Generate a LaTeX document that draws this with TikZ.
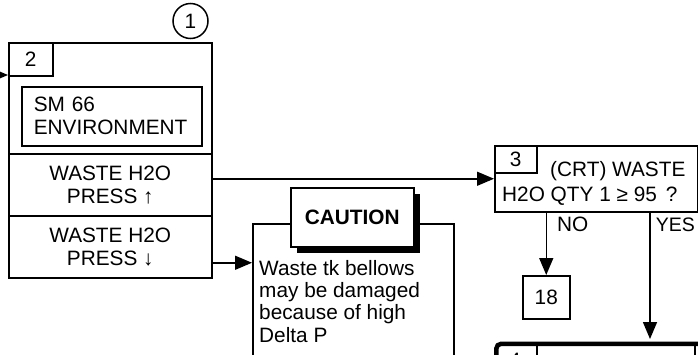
\documentclass[tikz,border=0pt]{standalone}
\usepackage{fontspec}
\setmainfont{Liberation Sans}
\usetikzlibrary{arrows.meta,shadows,calc}
\begin{document}
\begin{tikzpicture}[x=1pt,y=-1pt,
  box/.style={draw, line width=1.5pt, inner sep=0pt, anchor=north west},
  txt/.style={font=\fontsize{20.8}{23}\selectfont},
  arr/.style={line width=1.5pt, -{Triangle[length=17pt,width=14pt]}},
  ln/.style={line width=1.5pt}]
\useasboundingbox (0,0) rectangle (698,354);
\clip (0,0) rectangle (698,354);
% main box
\node[box, minimum width=203pt, minimum height=235pt] (main) at (8,42) {};
\node[box, txt, minimum width=44pt, minimum height=33pt] (l2) at (8,42) {2};
\node[box, txt, minimum width=180pt, minimum height=59pt, align=left, text width=156pt, inner xsep=12pt] (env) at (21,86) {SM 66\\ENVIRONMENT};
\node[box, txt, minimum width=203pt, minimum height=62pt, align=center] (cup) at (8,153) {WASTE H2O\\PRESS ↑};
\node[box, txt, minimum width=203pt, minimum height=62pt, align=center] (cdn) at (8,215) {WASTE H2O\\PRESS ↓};
\node[draw, circle, line width=1.5pt, minimum size=35pt, inner sep=0pt, txt] (c1) at (190.5,21) {1};
\coordinate (in2) at (-12,75);
\draw[arr] (in2) -- (main.west |- in2);
% box 3
\node[box, minimum width=203pt, minimum height=66pt] (b3) at (494,145) {};
\node[box, txt, minimum width=42pt, minimum height=27pt] (l3) at (494,145) {3};
\node[txt, anchor=base west, inner sep=0pt] (t3a) at (550,176.7) {(CRT) WASTE};
\node[txt, anchor=base west, inner sep=0pt] (t3b) at (502,201.7) {H2O QTY 1 ≥ 95\hspace{9pt}?};
\draw[arr] (cup.east |- b3.west) -- (b3.west);
% box 18
\node[box, txt, minimum width=47pt, minimum height=43pt] (b18) at (522,275) {18};
\draw[arr] (b18.north |- b3.south) -- (b18.north);
\node[txt, anchor=base west, inner sep=0pt] (no) at (557,231.5) {NO};
\node[anchor=base east, inner sep=0pt, font=\fontsize{19.5}{23}\selectfont] (yes) at (695,231.5) {YES};
% box 4
\node[draw, line width=4.5pt, rounded corners=5pt, anchor=north west, minimum width=260pt, minimum height=80pt, inner sep=0pt] (b4) at (494,341.5) {};
\coordinate (b4top) at (650,339);
\draw[arr] (b3.south -| b4top) -- (b4top);
\draw[ln] (537,343) -- (537,400);
\draw[ln] (695,343) -- (695,400);
\node[txt, anchor=base, inner sep=0pt] (n4) at (515,367.5) {4};
% caution
\node[box, minimum width=201pt, minimum height=140pt] (caut) at (252,223) {};
\node[anchor=north west, align=left, inner sep=0pt, font=\fontsize{20.8}{22.3}\selectfont] (ctext) at (259,260) {Waste tk bellows\\may be damaged\\because of high\\Delta P};
\node[box, fill=white, drop shadow={shadow xshift=6pt, shadow yshift=-6pt, opacity=1, fill=black}, minimum width=123pt, minimum height=59pt, font=\bfseries\fontsize{20.8}{23}\selectfont] (clab) at (290,187) {CAUTION};
\draw[arr] ([yshift=-16pt]cdn.east) -- ([yshift=-16pt]cdn.east -| caut.west);
\end{tikzpicture}
\end{document}
